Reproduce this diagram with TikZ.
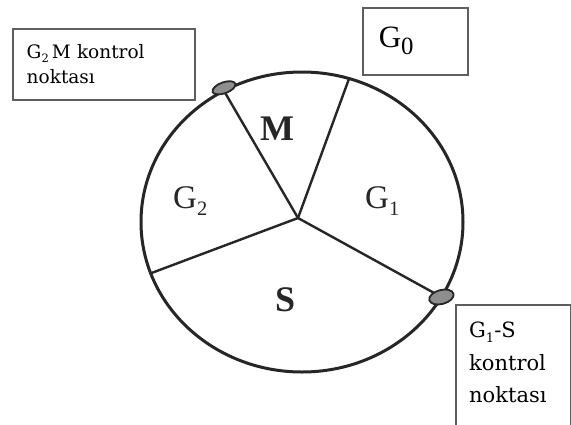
\documentclass[tikz,border=0pt]{standalone}
\usepackage{fontspec}
\setmainfont{Liberation Serif}
\newfontfamily\boxfont{DejaVu Serif}
\usepackage{tikz}
\usetikzlibrary{shapes.geometric,calc}
\definecolor{CycInk}{HTML}{262626}
\definecolor{CycFrame}{HTML}{5E5E5E}
\definecolor{CycMark}{HTML}{8E8E8E}
\newcommand{\lowix}[2][0.62]{\raisebox{-0.22em}{\scalebox{#1}{#2}}}
\tikzset{
  cycleline/.style={draw=CycInk,line width=3pt},
  spokeline/.style={draw=CycInk,line width=2.4pt},
  notebox/.style={draw=CycFrame,line width=1.5pt,inner sep=0pt,font=\boxfont},
  phaselabel/.style={anchor=base west,inner sep=0pt,text=CycInk,font=\fontsize{33}{33}\selectfont},
  checkpt/.style={ellipse,draw=CycInk,fill=CycMark,line width=1.8pt,inner sep=0pt}
}

\begin{document}
\begin{tikzpicture}[x=1pt,y=-1pt]
\clip (0,0) rectangle (571,424);
\fill[white] (0,0) rectangle (571,424);
\coordinate (C) at (302,222);
\coordinate (H) at (298,218);
\coordinate (mg1) at ($(C)+(73:161pt and 150pt)$);
\coordinate (g2m) at ($(C)+(119:161pt and 150pt)$);
\coordinate (g2s) at ($(C)+(200:161pt and 150pt)$);
\coordinate (g1s) at ($(C)+(330:161pt and 150pt)$);
\draw[cycleline] (C) ellipse [x radius=161pt, y radius=150pt];
\draw[spokeline] (H) -- (mg1);
\draw[spokeline] (H) -- (g2m);
\draw[spokeline] (H) -- (g2s);
\draw[spokeline] (H) -- (g1s);
\node[checkpt,minimum width=24pt,minimum height=11pt,rotate=20] (g2mcheck) at ($(g2m)+(0pt,3pt)$) {};
\node[checkpt,minimum width=25pt,minimum height=14pt,rotate=15] (g1scheck) at (g1s) {};
\node[phaselabel,font=\fontsize{36}{36}\selectfont\bfseries] (mlab) at (260,140) {M};
\node[phaselabel] (g2lab) at (173,208) {G\lowix{2}};
\node[phaselabel] (g1lab) at (365,208) {G\lowix{1}};
\node[phaselabel,font=\fontsize{36}{36}\selectfont\bfseries] (slab) at (275,311) {S};
\node[notebox,anchor=north west,minimum width=182pt,minimum height=71pt,text width=154pt,inner xsep=14pt,align=left,font=\boxfont\fontsize{18.5}{25.5}\selectfont] (g2mbox) at (12,28) {G\lowix{2}\,M kontrol\\noktası};
\node[notebox,anchor=north west,minimum width=105pt,minimum height=67pt,text width=73pt,inner xsep=16pt,align=left,font=\fontsize{31}{31}\selectfont] (g0box) at (362,7) {G\lowix[0.8]{0}};
\node[notebox,anchor=north west,minimum width=115pt,minimum height=160pt] (g1sbox) at (455,304) {};
\node[anchor=north west,inner sep=0pt,align=left,font=\boxfont\fontsize{21}{32.5}\selectfont] (g1stext) at ($(g1sbox.north west)+(14pt,-18pt)$) {G\lowix{1}-S\\kontrol\\noktası};
\end{tikzpicture}
\end{document}
